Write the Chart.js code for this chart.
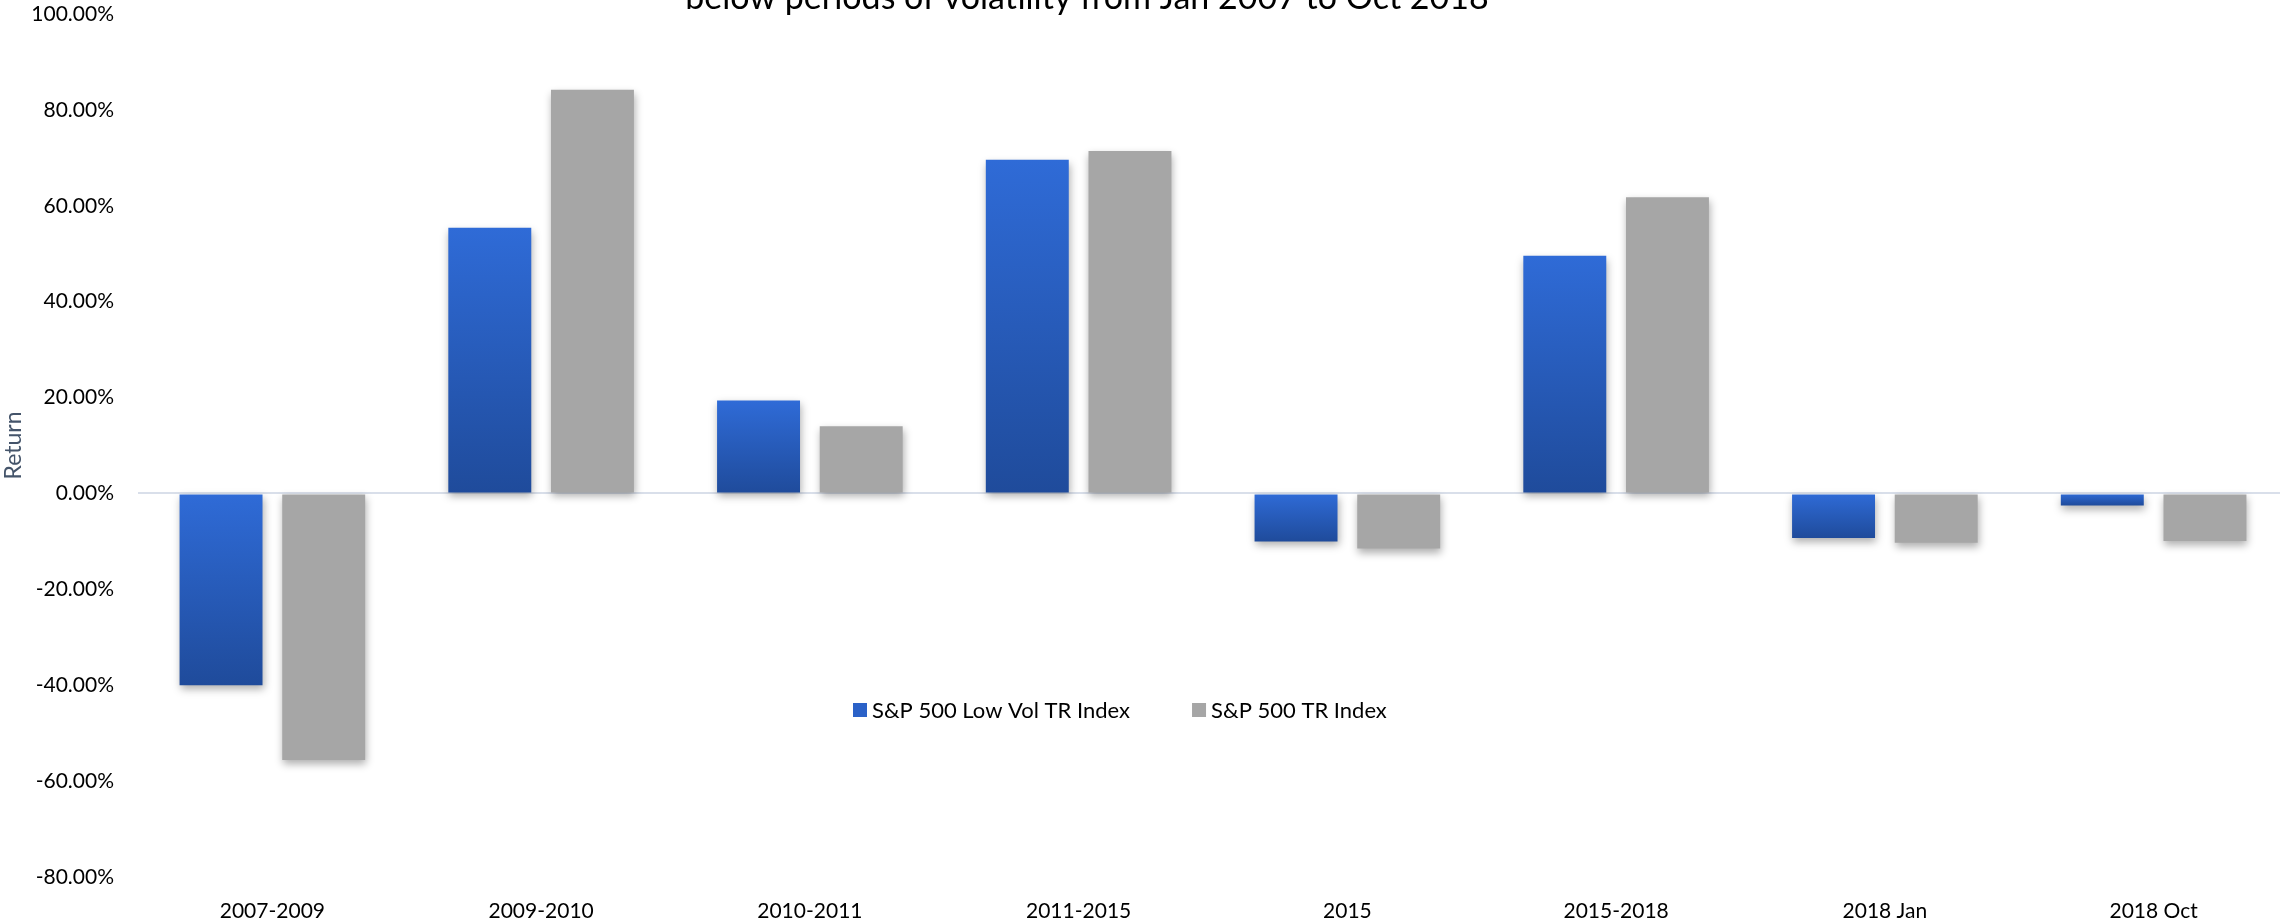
<!DOCTYPE html>
<html>
<head>
<meta charset="utf-8">
<script src="https://cdn.jsdelivr.net/npm/chart.js@4/dist/chart.umd.min.js"></script>
<style>
  html, body { margin: 0; padding: 0; background: #fff; overflow: hidden; }
  #wrap { position: relative; width: 2288px; height: 923px; }
</style>
</head>
<body>
<div id="wrap"><canvas id="chart"></canvas></div>
<script>
const categories = ['2007-2009', '2009-2010', '2010-2011', '2011-2015', '2015', '2015-2018', '2018 Jan', '2018 Oct'];
const lowVolReturns = [-40.0, 55.4, 19.4, 69.6, -10.0, 49.6, -9.3, -2.5];
const sp500Returns = [-55.6, 84.2, 14.0, 71.4, -11.5, 61.8, -10.3, -9.9];
const seriesNames = ['S&P 500 Low Vol TR Index', 'S&P 500 TR Index'];
const titleText = 'below periods of volatility from Jan 2007 to Oct 2018';

const FONT = 'Lato, "Open Sans", sans-serif';

// gradient light at top, dark at bottom, per bar
const blueFill = (ctx) => {
    const chart = ctx.chart;
    const y = chart.scales.y;
    if (!chart.chartArea || !y || ctx.type !== 'data') return '#2B62C8';
    const v = ctx.parsed.y;
    const top = y.getPixelForValue(Math.max(v, 0));
    const bottom = y.getPixelForValue(Math.min(v, 0));
    if (!isFinite(top) || !isFinite(bottom) || top === bottom) return '#2B62C8';
    const g = chart.ctx.createLinearGradient(0, top, 0, bottom);
    g.addColorStop(0, '#2F6BD7');
    g.addColorStop(1, '#1F4B9B');
    return g;
};

const barShadow = {
    id: 'barShadow',
    beforeDatasetsDraw(chart) {
        const ctx = chart.ctx;
        ctx.save();
        ctx.shadowColor = 'rgba(0,0,0,0.32)';
        ctx.shadowBlur = 8;
        ctx.shadowOffsetX = 1;
        ctx.shadowOffsetY = 4;
    },
    afterDatasetsDraw(chart) {
        chart.ctx.restore();
    }
};

const titleAndLegend = {
    id: 'titleAndLegend',
    afterDraw(chart) {
        const ctx = chart.ctx;
        ctx.save();
        ctx.fillStyle = '#000';
        ctx.font = '34px ' + FONT;
        ctx.textAlign = 'center';
        ctx.textBaseline = 'alphabetic';
        ctx.fillText(titleText, 1087, 9);

        // legend inside plot
        const swatches = ['#2B62C8', '#A6A6A6'];
        let x = 853;
        const yc = 710;
        ctx.font = '22px ' + FONT;
        ctx.textAlign = 'left';
        ctx.textBaseline = 'middle';
        seriesNames.forEach((name, i) => {
            ctx.fillStyle = swatches[i];
            ctx.fillRect(x, yc - 7, 14, 14);
            ctx.fillStyle = '#000';
            ctx.fillText(name, x + 19, yc + 1);
            x += 19 + ctx.measureText(name).width + 62;
        });
        ctx.restore();
    }
};

new Chart(document.getElementById('chart'), {
    type: 'bar',
    data: {
        labels: categories,
        datasets: [
            { label: seriesNames[0], data: lowVolReturns, backgroundColor: blueFill },
            { label: seriesNames[1], data: sp500Returns, backgroundColor: '#A6A6A6' }
        ]
    },
    options: {
        responsive: true,
        maintainAspectRatio: false,
        animation: false,
        categoryPercentage: 0.764,
        barPercentage: 0.808,
        layout: { padding: { top: 14, right: 0, left: 0, bottom: 0 } },
        plugins: {
            legend: { display: false },
            title: { display: false },
            tooltip: { enabled: false }
        },
        scales: {
            x: {
                grid: { display: false },
                border: { display: false },
                ticks: { color: '#000', font: { family: FONT, size: 21 }, padding: 14, maxRotation: 0 },
                afterFit: (s) => { s.height = 46; }
            },
            y: {
                min: -80,
                max: 100,
                border: { display: false },
                grid: {
                    drawTicks: false,
                    lineWidth: 2,
                    color: (c) => (c.tick && c.tick.value === 0 ? '#D9DFEA' : 'rgba(0,0,0,0)')
                },
                ticks: {
                    stepSize: 20,
                    padding: 24,
                    color: '#000',
                    font: { family: FONT, size: 21 },
                    callback: (v) => v.toFixed(2) + '%'
                },
                title: {
                    display: true,
                    text: 'Return',
                    color: '#44546A',
                    font: { family: FONT, size: 23 },
                    padding: { top: 0, bottom: 0 }
                },
                afterFit: (s) => { s.width = 138; s.paddingTop = 0; s.paddingBottom = 0; }
            }
        }
    },
    plugins: [barShadow, titleAndLegend]
});
</script>
</body>
</html>
